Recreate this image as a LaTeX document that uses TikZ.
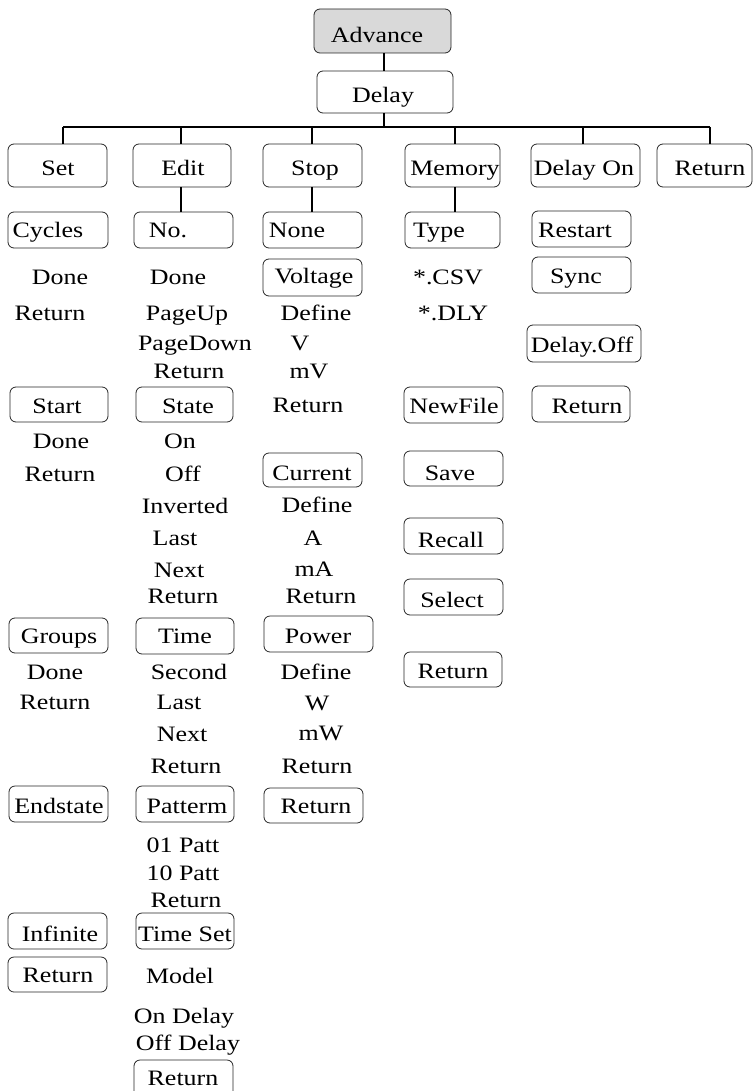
\documentclass[tikz,border=0pt]{standalone}
\usepackage{fontspec}
\setmainfont{Liberation Serif}[FakeStretch=1.18]
\definecolor{advfill}{HTML}{D9D9D9}
% \B[style]{name}{x1}{y1}{x2}{y2}{text x}{text baseline}{text}
\newcommand\B[9][]{\node[box,#1,minimum width={(#5-#3)*1pt},minimum height={(#6-#4)*1pt}] (#2) at ({(#3+#5)/2},{(#4+#6)/2}) {};
  \node[txt,anchor=base] (#2-t) at (#7,#8) {#9};}
\newcommand\tx[4]{\node[txt,anchor=base] (#1) at (#2,#3) {#4};}
\begin{document}
\begin{tikzpicture}[x=1pt,y=-1pt,
  box/.style={draw=black!85,line width=0.8pt,rounded corners=6pt,inner sep=0pt},
  txt/.style={inner sep=0pt,font=\fontsize{22}{26}\selectfont},
  conn/.style={line width=1.6pt}]
\useasboundingbox (0,0) rectangle (753,1091);
% top
\B[fill=advfill]{adv}{314}{9}{451}{53}{377}{43}{Advance}
\B{delay}{317}{71}{453}{113}{383}{103}{Delay}
\coordinate (busL) at (63,127);
\coordinate (busR) at (710,127);
\coordinate (b0) at (384,127);
\coordinate (b2) at (181,127);
\coordinate (b3) at (312,127);
\coordinate (b4) at (455,127);
\coordinate (b5) at (583,127);
% row 1
\B{set}{8}{144}{107}{187}{58}{176}{Set}
\B{edit}{133}{144}{231}{187}{183}{176}{Edit}
\B{stop}{263}{144}{362}{187}{315}{176}{Stop}
\B{memory}{405}{144}{500}{187}{455}{176}{Memory}
\B{delayon}{531}{144}{640}{187}{584}{176}{Delay On}
\B{ret0}{657}{144}{752}{187}{710}{176}{Return}
\draw[conn] (b0 |- adv.south) -- (b0 |- delay.north);
\draw[conn] (b0 |- delay.south) -- (b0);
\draw[conn] (busL) -- (busR);
\draw[conn] (busL) -- (busL |- set.north);
\draw[conn] (b2) -- (b2 |- edit.north);
\draw[conn] (b3) -- (b3 |- stop.north);
\draw[conn] (b4) -- (b4 |- memory.north);
\draw[conn] (b5) -- (b5 |- delayon.north);
\draw[conn] (busR) -- (busR |- ret0.north);
% Set column
\B{cycles}{8}{212}{108}{248}{48}{237}{Cycles}
\tx{s1}{60}{284}{Done}
\tx{s2}{50}{320}{Return}
\B{start}{10}{387}{108}{422}{57}{413}{Start}
\tx{s3}{61}{448}{Done}
\tx{s4}{60}{481}{Return}
\B{groups}{9}{618}{108}{653}{59}{643}{Groups}
\tx{s5}{55}{679}{Done}
\tx{s6}{55}{709}{Return}
\B{endstate}{9}{786}{108}{822}{59}{813}{Endstate}
\B{infinite}{8}{913}{107}{949}{60}{941}{Infinite}
\B{sret}{8}{957}{107}{992}{58}{982}{Return}
% Edit column
\B{no}{134}{212}{233}{248}{168}{237}{No.}
\draw[conn] (b2 |- edit.south) -- (b2 |- no.north);
\tx{e1}{178}{284}{Done}
\tx{e2}{187}{320}{PageUp}
\tx{e3}{195}{350}{PageDown}
\tx{e4}{189}{378}{Return}
\B{state}{136}{387}{233}{422}{188}{413}{State}
\tx{e5}{180}{448}{On}
\tx{e6}{183}{481}{Off}
\tx{e7}{185}{513}{Inverted}
\tx{e8}{175}{545}{Last}
\tx{e9}{179}{577}{Next}
\tx{e10}{183}{603}{Return}
\B{time}{136}{618}{234}{654}{185}{643}{Time}
\tx{e11}{189}{679}{Second}
\tx{e12}{179}{709}{Last}
\tx{e13}{182}{741}{Next}
\tx{e14}{186}{773}{Return}
\B{patterm}{136}{786}{234}{822}{187}{813}{Patterm}
\tx{e15}{183}{852}{01 Patt}
\tx{e16}{183}{880}{10 Patt}
\tx{e17}{186}{907}{Return}
\B{timeset}{136}{913}{234}{949}{185}{941}{Time Set}
\tx{e18}{180}{983}{Model}
\tx{e19}{184}{1023}{On Delay}
\tx{e20}{188}{1050}{Off Delay}
\B{eret}{134}{1060}{233}{1100}{183}{1085}{Return}
% Stop column
\B{none}{263}{212}{362}{248}{297}{237}{None}
\draw[conn] (b3 |- stop.south) -- (b3 |- none.north);
\B{voltage}{263}{259}{362}{296}{314}{283}{Voltage}
\tx{t1}{316}{320}{Define}
\tx{t2}{300}{350}{V}
\tx{t3}{309}{378}{mV}
\tx{t4}{308}{412}{Return}
\B{current}{263}{453}{362}{487}{312}{480}{Current}
\tx{t5}{317}{512}{Define}
\tx{t6}{313}{545}{A}
\tx{t7}{314}{576}{mA}
\tx{t8}{321}{603}{Return}
\B{power}{264}{616}{373}{652}{318}{643}{Power}
\tx{t9}{316}{679}{Define}
\tx{t10}{317}{710}{W}
\tx{t11}{321}{740}{mW}
\tx{t12}{317}{773}{Return}
\B{tret}{264}{788}{363}{823}{316}{813}{Return}
% Memory column
\B{type}{405}{212}{500}{248}{439}{237}{Type}
\draw[conn] (b4 |- memory.south) -- (b4 |- type.north);
\tx{m1}{448}{284}{*.CSV}
\tx{m2}{453}{320}{*.DLY}
\B{newfile}{404}{387}{503}{423}{454}{413}{NewFile}
\B{save}{404}{451}{503}{486}{450}{480}{Save}
\B{recall}{404}{518}{503}{554}{451}{547}{Recall}
\B{select}{404}{579}{503}{615}{452}{607}{Select}
\B{mret}{404}{652}{502}{687}{453}{678}{Return}
% Delay On column
\B{restart}{532}{211}{631}{247}{575}{237}{Restart}
\B{sync}{532}{257}{631}{293}{576}{283}{Sync}
\B{delayoff}{527}{325}{641}{362}{582}{352}{Delay.Off}
\B{dret}{532}{386}{630}{422}{587}{413}{Return}
\end{tikzpicture}
\end{document}
